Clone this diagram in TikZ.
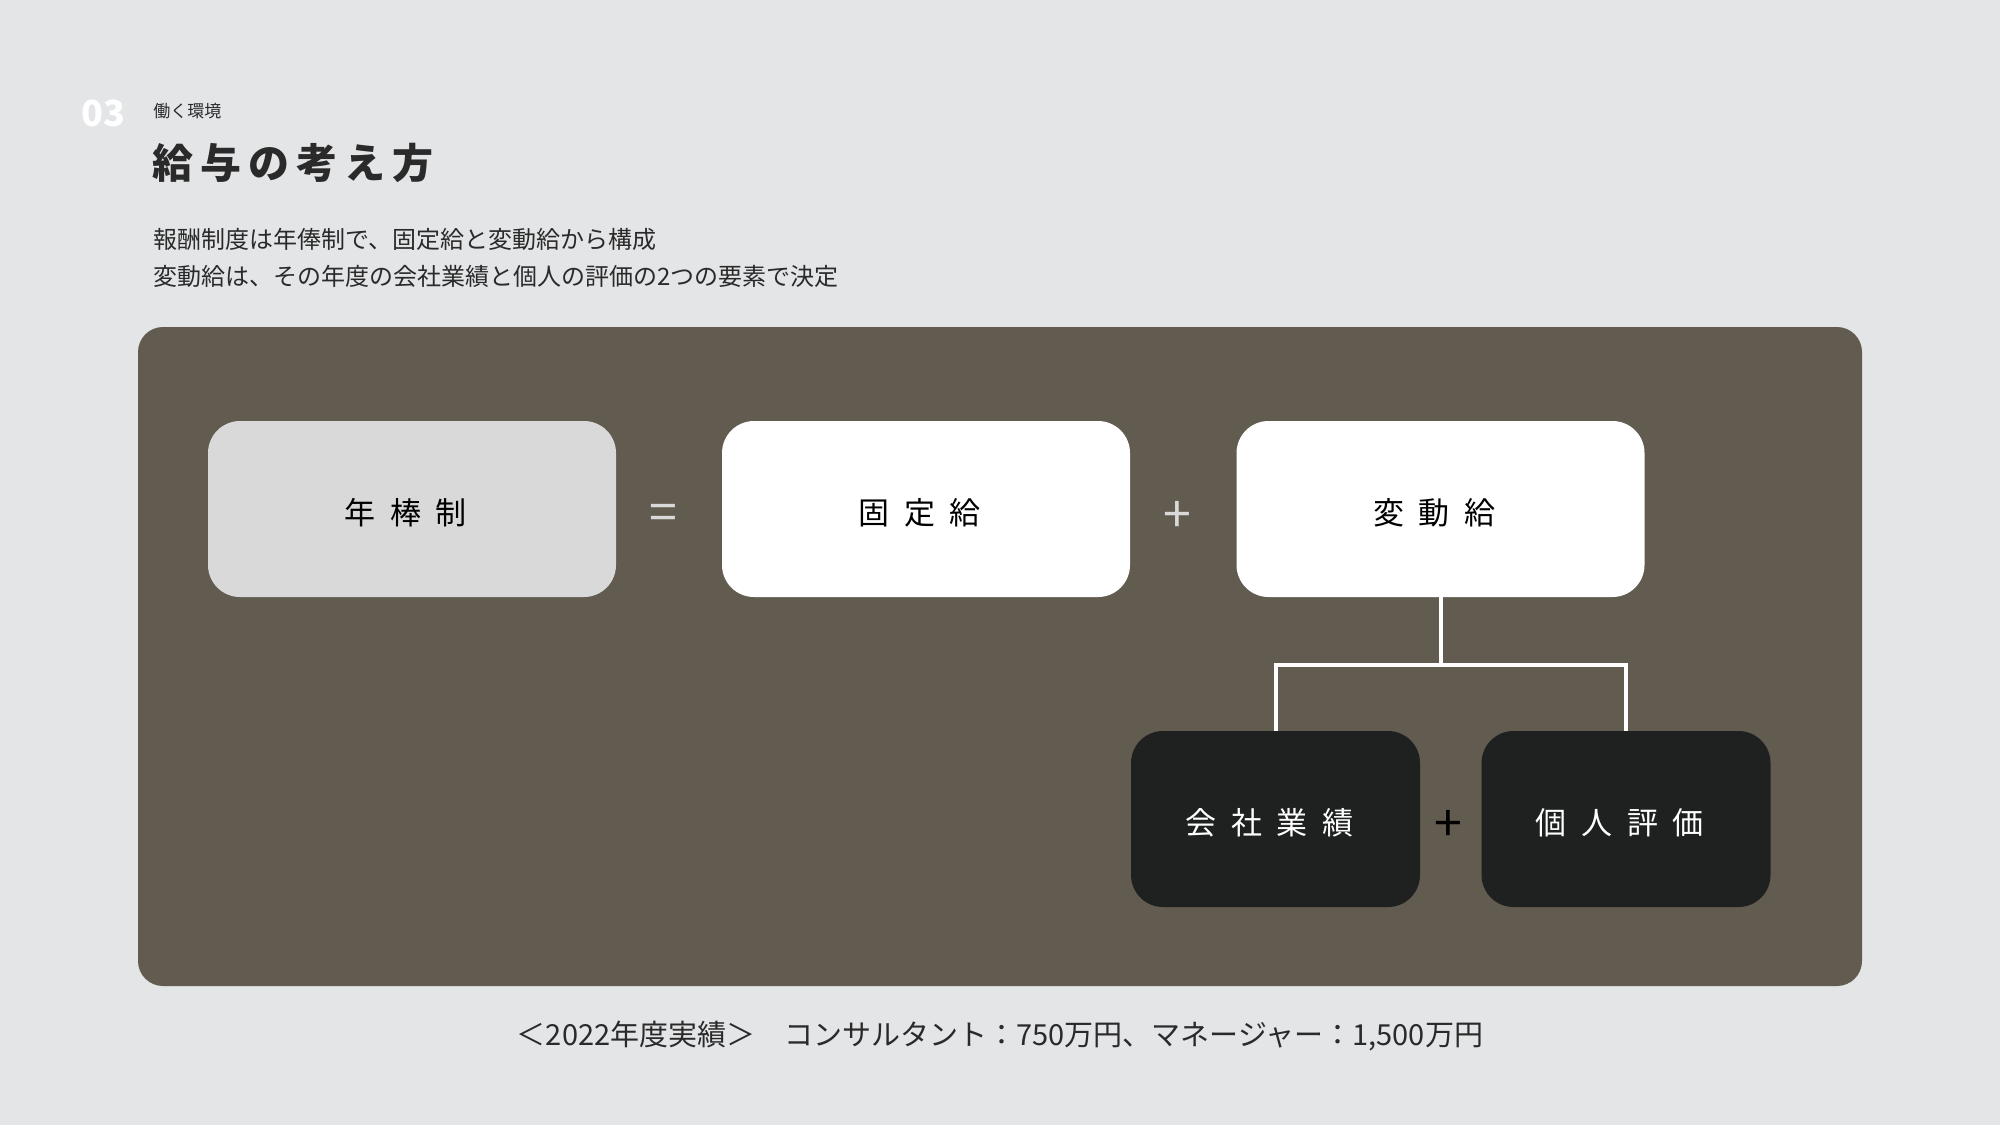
\documentclass[tikz,border=0pt]{standalone}
\usepackage{fontspec}
\setmainfont{Noto Sans CJK JP}
\newfontfamily\titlefont[LetterSpace=17]{Noto Sans CJK JP}
\newfontfamily\labelfont[LetterSpace=47]{Noto Sans CJK JP}
\usetikzlibrary{positioning}

\definecolor{bgGray}{HTML}{E4E5E7}
\definecolor{panelBrown}{HTML}{625B50}
\definecolor{boxGray}{HTML}{D9D9D9}
\definecolor{boxDark}{HTML}{1F2120}
\definecolor{inkDark}{HTML}{2A2A2A}

\tikzset{
  sumbox/.style={rounded corners=16pt, minimum width=204pt, minimum height=88pt, inner sep=0pt,
    text height=15.8pt, text depth=0pt,
    font=\labelfont\fontsize{15.5}{15.5}\selectfont, execute at end node={\hspace{0.4em}}},
  totalbox/.style={sumbox, fill=boxGray, text=black},
  partbox/.style={sumbox, fill=white, text=black},
  factorbox/.style={sumbox, minimum width=144.5pt, fill=boxDark, text=white},
  oper/.style={font=\fontsize{25}{25}\selectfont, inner sep=0pt},
  link/.style={draw=white, line width=2pt}
}

\begin{document}
\begin{tikzpicture}[x=0.5pt,y=0.5pt,yscale=-1]
% page and panel
\fill[bgGray] (0,0) rectangle (2000,1125);
\fill[panelBrown, rounded corners=12.5pt] (138,327) rectangle (1862,986);

% heading
\node[anchor=west, inner sep=0pt, text=white, font=\fontsize{18}{18}\selectfont\bfseries] (num) at (81,113) {03};
\node[anchor=west, inner sep=0pt, text=inkDark, font=\fontsize{8.5}{9}\selectfont] (section) at (153,111) {働く環境};
\node[anchor=west, inner sep=0pt, text=inkDark, font=\titlefont\fontsize{20.5}{20.5}\selectfont\bfseries] (title) at (152,163) {給与の考え方};
\node[anchor=west, inner sep=0pt, align=left, text=inkDark, font=\fontsize{12}{18.5}\selectfont] (lead) at (153,258)
  {報酬制度は年俸制で、固定給と変動給から構成\\変動給は、その年度の会社業績と個人の評価の2つの要素で決定};

% formula
\node[totalbox] (nenpo) at (412,509) {年棒制};
\node[oper, text=boxGray] (eq) at (663,517) {=};
\node[partbox] (kotei) at (926,509) {固定給};
\node[oper, text=boxGray] (plus) at (1177,517) {+};
\node[partbox] (hendo) at (1440.5,509) {変動給};

\node[factorbox] (kaisha) at (1275.5,819) {会社業績};
\node[oper, text=black] (plusb) at (1448,826) {+};
\node[factorbox] (kojin) at (1626,819) {個人評価};

% split of the variable part
\coordinate (split) at (1440.5,665);
\draw[link] (hendo.south) -- (split);
\draw[link] (split) -| (kaisha.north);
\draw[link] (split) -| (kojin.north);

% note
\node[inner sep=0pt, text=inkDark, font=\fontsize{14.5}{15}\selectfont] (note) at (1000,1036)
  {＜2022年度実績＞　コンサルタント：750万円、マネージャー：1,500万円};
\end{tikzpicture}
\end{document}
